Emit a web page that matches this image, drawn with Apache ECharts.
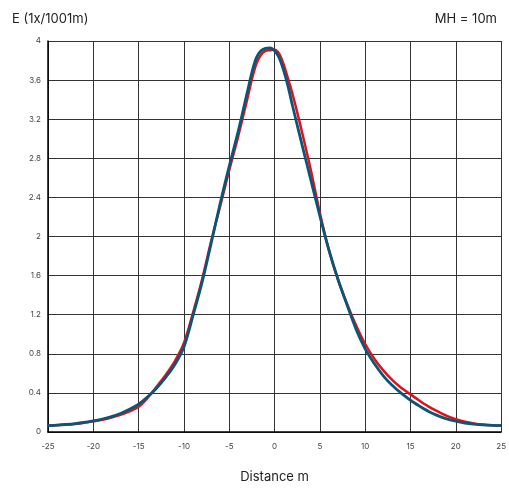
<!DOCTYPE html>
<html>
<head>
<meta charset="utf-8">
<script src="https://cdn.jsdelivr.net/npm/echarts@6/dist/echarts.min.js"></script>
<style>
html,body{margin:0;padding:0;background:#fff;overflow:hidden;}
#c{width:100vw;height:100vh;}
</style>
</head>
<body>
<div id="c"></div>
<script>
const distances = [-25,-24,-23,-22,-21,-20,-19,-18,-17,-16,-15,-14,-13,-12,-11,-10,-9,-8,-7,-6,-5,-4,-3,-2.5,-2,-1.5,-1,-0.5,0,0.5,1,1.5,2,2.5,3,4,5,6,7,8,9,10,11,12,13,14,15,16,17,18,19,20,21,22,23,24,25];
const seriesRed = [0.065,0.068,0.074,0.083,0.095,0.11,0.126,0.148,0.176,0.212,0.258,0.35,0.465,0.585,0.725,0.91,1.22,1.56,1.95,2.31,2.68,3.03,3.41,3.61,3.77,3.86,3.9,3.905,3.91,3.87,3.76,3.61,3.45,3.27,3.08,2.68,2.24,1.86,1.56,1.31,1.09,0.9,0.75,0.63,0.53,0.45,0.385,0.32,0.26,0.21,0.165,0.13,0.105,0.088,0.076,0.069,0.066];
const seriesBlue = [0.065,0.07,0.077,0.086,0.098,0.113,0.133,0.158,0.19,0.232,0.285,0.36,0.45,0.56,0.69,0.87,1.19,1.53,1.93,2.34,2.72,3.08,3.48,3.68,3.83,3.9,3.925,3.93,3.9,3.83,3.7,3.53,3.33,3.14,2.95,2.58,2.21,1.86,1.56,1.3,1.05,0.85,0.7,0.575,0.475,0.395,0.325,0.265,0.21,0.168,0.135,0.11,0.092,0.08,0.072,0.067,0.065];
const yTitle = 'E (1x/1001m)';
const mhLabel = 'MH = 10m';
const xTitle = 'Distance m';

const font = 'Inter, "Noto Sans", sans-serif';
const chart = echarts.init(document.getElementById('c'));
chart.setOption({
  animation:false,
  backgroundColor:'#fff',
  title:[
    {text:yTitle,left:7,top:8,textStyle:{fontFamily:font,fontSize:13,fontWeight:'normal',color:'#222'}},
    {text:mhLabel,right:7,top:8,textStyle:{fontFamily:font,fontSize:13,fontWeight:'normal',color:'#222'}}
  ],
  grid:{left:48,right:3,top:41,bottom:55},
  xAxis:{
    type:'value',min:-25,max:25,interval:5,
    name:xTitle,nameLocation:'middle',nameGap:39,
    nameTextStyle:{fontFamily:font,fontSize:13,color:'#222'},
    axisLine:{show:true,onZero:false,lineStyle:{color:'#000',width:1.5}},
    axisTick:{show:false},
    axisLabel:{fontFamily:font,fontSize:8,color:'#444',margin:11},
    splitLine:{show:true,lineStyle:{color:'#333',width:1}}
  },
  yAxis:{
    type:'value',min:0,max:4,interval:0.4,
    axisLine:{show:true,onZero:false,lineStyle:{color:'#000',width:1.5}},
    axisTick:{show:false},
    axisLabel:{fontFamily:font,fontSize:8,color:'#444',margin:7},
    splitLine:{show:true,lineStyle:{color:'#333',width:1}}
  },
  series:[
    {type:'line',data:distances.map((d,i)=>[d,seriesRed[i]]),smooth:0.3,showSymbol:false,lineStyle:{color:'#e0101c',width:2.5}},
    {type:'line',data:distances.map((d,i)=>[d,seriesBlue[i]]),smooth:0.3,showSymbol:false,lineStyle:{color:'#0b5575',width:2.8}}
  ]
});
</script>
</body>
</html>
